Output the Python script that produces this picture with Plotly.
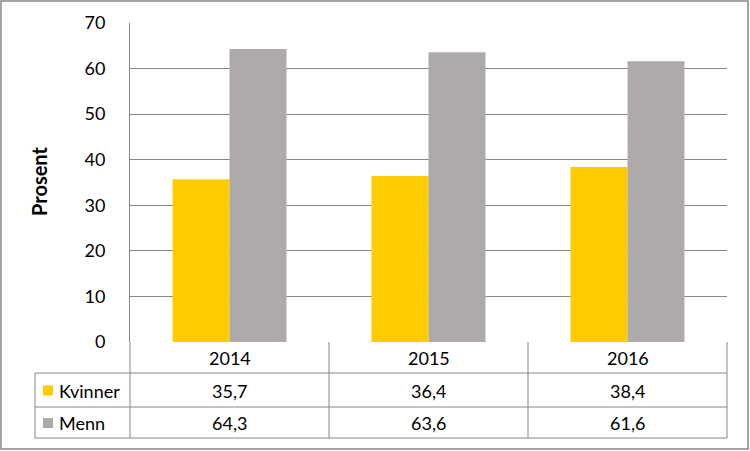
import plotly.graph_objects as go

years = ["2014", "2015", "2016"]
kvinner = [35.7, 36.4, 38.4]
menn = [64.3, 63.6, 61.6]
series_names = ["Kvinner", "Menn"]
colors = ["#FFCC00", "#AEAAAA"]
y_ticks = [0, 10, 20, 30, 40, 50, 60, 70]

FONT = "Lato"
FS = 18
W, H = 750, 451
L, R, T, B = 130, 727, 23, 342
PW, PH = R - L, B - T

def px(x):
    return (x - L) / PW

def py(y):
    return (B - y) / PH

fig = go.Figure()
for name, vals, col in zip(series_names, [kvinner, menn], colors):
    fig.add_trace(go.Bar(x=years, y=vals, name=name, marker=dict(color=col, line=dict(width=0)),
                         showlegend=False))

line_col = "#868686"
shapes = []
def hline(y, x0, x1):
    shapes.append(dict(type="line", xref="paper", yref="paper", x0=px(x0), x1=px(x1), y0=py(y), y1=py(y),
                       line=dict(color=line_col, width=1)))
def vline(x, y0, y1):
    shapes.append(dict(type="line", xref="paper", yref="paper", x0=px(x), x1=px(x), y0=py(y0), y1=py(y1),
                       line=dict(color=line_col, width=1)))

# outer border
shapes.append(dict(type="rect", xref="paper", yref="paper", x0=px(1), x1=px(748), y0=py(449), y1=py(1),
                   line=dict(color=line_col, width=1.5), fillcolor="rgba(0,0,0,0)"))
# table grid
hline(373, 35, 727)
hline(407, 35, 727)
hline(438, 35, 727)
n = len(years)
for i in range(n + 1):
    vline(L + PW * i / n, 342, 438)
vline(35, 373, 438)

annotations = []
row_centers = [358, 390.5, 423]
for i, yr in enumerate(years):
    xc = px(L + PW * (i + 0.5) / n)
    annotations.append(dict(xref="paper", yref="paper", x=xc, y=py(row_centers[0]), text=yr, showarrow=False,
                            xanchor="center", yanchor="middle", font=dict(size=FS, color="#000000", family=FONT)))
    for r, vals in enumerate([kvinner, menn]):
        annotations.append(dict(xref="paper", yref="paper", x=xc, y=py(row_centers[r + 1]),
                                text=f"{vals[i]:.1f}".replace(".", ","), showarrow=False,
                                xanchor="center", yanchor="middle", font=dict(size=FS, color="#000000", family=FONT)))
for r, (name, col) in enumerate(zip(series_names, colors)):
    yc = row_centers[r + 1]
    shapes.append(dict(type="rect", xref="paper", yref="paper", x0=px(43), x1=px(53), y0=py(yc + 5), y1=py(yc - 5),
                       line=dict(width=0), fillcolor=col))
    annotations.append(dict(xref="paper", yref="paper", x=px(57), y=py(yc), text=name, showarrow=False,
                            xanchor="left", yanchor="middle", font=dict(size=FS, color="#000000", family=FONT)))

annotations.append(dict(xref="paper", yref="paper", x=px(39), y=py(182), text="<b>Prosent</b>", showarrow=False,
                        textangle=-90, xanchor="center", yanchor="middle",
                        font=dict(size=20, color="#000000", family=FONT)))

fig.update_layout(
    width=W, height=H,
    margin=dict(l=L, r=W - R, t=T, b=H - B),
    paper_bgcolor="white", plot_bgcolor="white",
    barmode="group", bargap=0.427, bargroupgap=0,
    font=dict(family=FONT, size=FS, color="#000000"),
    xaxis=dict(showticklabels=False, showgrid=False, zeroline=False, showline=False, ticks=""),
    yaxis=dict(range=[0, 70], tickvals=y_ticks, showgrid=True, gridcolor=line_col, gridwidth=1,
               zeroline=False, showline=True, linecolor=line_col, linewidth=1, ticks="",
               ticklabelstandoff=20, tickfont=dict(size=FS, family=FONT, color="#000000")),
    shapes=shapes, annotations=annotations,
)
fig.write_html("out.html", config={"displayModeBar": False},
               post_script="document.body.style.margin='0';")
